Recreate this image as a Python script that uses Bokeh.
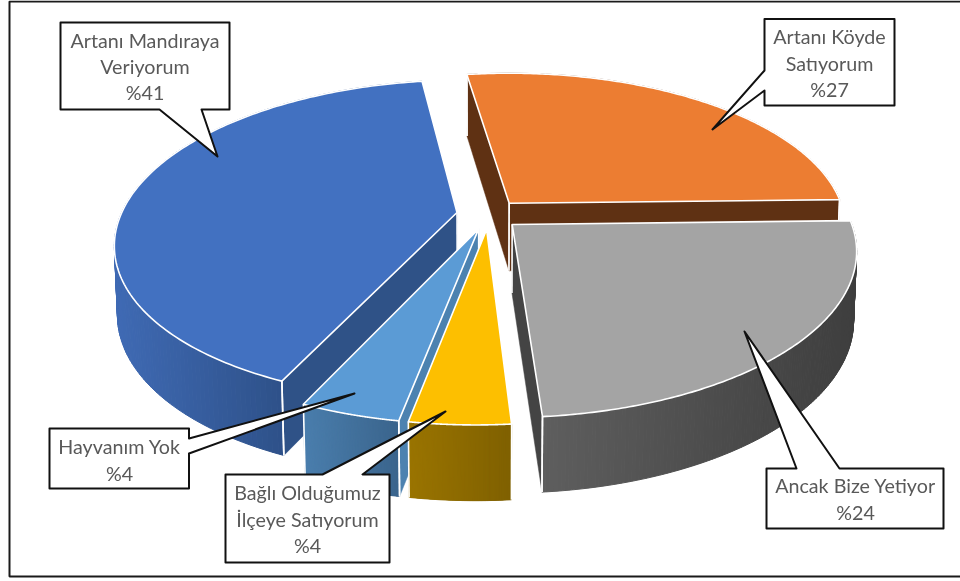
import numpy as np
from bokeh.plotting import figure
from bokeh.models import Range1d
from bokeh.core.properties import value
from bokeh.embed import file_html
from bokeh.resources import INLINE

# data, clockwise from the first slice
categories = ["Artanı Köyde\nSatıyorum", "Ancak Bize Yetiyor", "Bağlı Olduğumuz\nİlçeye Satıyorum", "Hayvanım Yok", "Artanı Mandıraya\nVeriyorum"]
values = [27, 24, 4, 4, 41]
top_colors = ["#EC7D32", "#A4A4A4", "#FDBF00", "#5B9BD5", "#4271C1"]
wall_left = ["#5F3113", "#5E5E5E", "#9A7400", "#4A7EAD", "#3F6AB4"]
wall_right = ["#5F3113", "#3E3E3E", "#7F6000", "#3A648C", "#2E5189"]
radial_colors = ["#5F3113", "#444444", "#7F6000", "#4C82B0", "#2F5287"]
draw_order = [0, 4, 3, 2, 1]

# projection of the 3D pie
CX, CY, RX, RY = 488.0, 214.0, 336.0, 156.0
K, KZ, M, H = 0.172, 0.115, 0.008, 68.0
EXPLODE, START = 0.095, -8.6
SKEW1, SKEW2 = 6.15, -2.15

def project(X, Y, Z):
    den = 1 + K * Y + M * Z
    skew = SKEW1 * Y + SKEW2 * Y * Y
    return CX + (RX * X + skew) / den, CY - RY * Y / den + Z * H / (1 + KZ * Y)

def mix(a, b, t):
    ca = [int(a[i:i + 2], 16) for i in (1, 3, 5)]
    cb = [int(b[i:i + 2], 16) for i in (1, 3, 5)]
    return "#%02x%02x%02x" % tuple(round(u + (v - u) * t) for u, v in zip(ca, cb))

p = figure(width=960, height=581, x_range=Range1d(0, 960), y_range=Range1d(581, 0),
           x_axis_type=None, y_axis_type=None, toolbar_location=None, output_backend="svg",
           min_border=0, outline_line_color=None, background_fill_color="white",
           border_fill_color="white", styles={"position": "fixed", "left": "0px", "top": "0px"})
p.grid.visible = False

# frame
p.line([960, 9, 9, 960], [1, 1, 576, 576], line_color="#1a1a1a", line_width=2)

edges = START + np.concatenate([[0], np.cumsum(values)]) * 3.6
WHITE = dict(line_color="white", line_width=1.6, line_join="round")

for i in draw_order:
    a0, a1 = edges[i], edges[i + 1]
    mid = np.radians((a0 + a1) / 2)
    ox, oy = EXPLODE * np.sin(mid), EXPLODE * np.cos(mid)
    th = np.radians(np.linspace(a0, a1, 160))
    rx, ry = ox + np.sin(th), oy + np.cos(th)
    tx, ty = project(rx, ry, 0 * rx)
    bx, by = project(rx, ry, 0 * rx + 1)
    ax, ay = project(ox, oy, 0)
    ax2, ay2 = project(ox, oy, 1)

    # outer wall, as a strip shaded by screen position over its visible part
    front = np.cos(th) < 0.1
    lo, hi = (tx[front].min(), tx[front].max()) if front.any() else (tx.min(), tx.max())
    sx, sy, sc = [], [], []
    for j in range(len(th) - 1):
        sx.append([tx[j], tx[j + 1], bx[j + 1], bx[j]])
        sy.append([ty[j], ty[j + 1], by[j + 1], by[j]])
        f = float(np.clip(((tx[j] + tx[j + 1]) / 2 - lo) / max(hi - lo, 1), 0, 1))
        sc.append(mix(wall_left[i], wall_right[i], f))
    p.patches(sx, sy, fill_color=sc, line_color=sc, line_width=1)

    # radial walls that face the viewer
    qx, qy = tx[len(th) // 2] - ax, ty[len(th) // 2] - ay
    for k, idx in enumerate((0, -1)):
        ex, ey = tx[idx] - ax, ty[idx] - ay
        inside = ex * qy - ey * qx
        down = ex * 1.0
        if inside * down < 0:
            p.patch([ax, tx[idx], bx[idx], ax2], [ay, ty[idx], by[idx], ay2],
                    fill_color=radial_colors[i], line_color=radial_colors[i], line_width=0.5)
            p.line([tx[idx], bx[idx]], [ty[idx], by[idx]], **WHITE)
            p.line([ax, ax2], [ay, ay2], **WHITE)
    # wall ends next to a neighbour
    p.line([tx[0], bx[0]], [ty[0], by[0]], **WHITE)
    p.line([tx[-1], bx[-1]], [ty[-1], by[-1]], **WHITE)

    # top face
    p.patch([ax] + list(tx), [ay] + list(ty), fill_color=top_colors[i], **WHITE)

# callouts: box (left, right, top, bottom), tail root on one side, tip
callouts = [
    dict(box=(60, 229, 22, 109), side="bottom", root=(159, 201), tip=(217, 156), center=144.5, lines=[40, 66, 92], cat=4),
    dict(box=(764, 894, 18.5, 105), side="left", root=(70, 90), tip=(712, 129), center=829, lines=[36, 63, 89], cat=0),
    dict(box=(766, 943, 468, 528), side="top", root=(796, 839), tip=(744, 331), center=855, lines=[485, 512], cat=1),
    dict(box=(49, 188.5, 428, 488), side="right", root=(438, 453), tip=(354, 393), center=119, lines=[446, 473], cat=3),
    dict(box=(225, 389, 474, 562), side="top", root=(322, 362), tip=(445, 411), center=307, lines=[492, 519, 545], cat=2),
]
for c in callouts:
    l, r, t, b = c["box"]
    r0, r1 = c["root"]
    tipx, tipy = c["tip"]
    if c["side"] == "bottom":
        pts = [(l, t), (r, t), (r, b), (r1, b), (tipx, tipy), (r0, b), (l, b)]
    elif c["side"] == "top":
        pts = [(l, t), (r0, t), (tipx, tipy), (r1, t), (r, t), (r, b), (l, b)]
    elif c["side"] == "left":
        pts = [(l, t), (r, t), (r, b), (l, b), (l, r1), (tipx, tipy), (l, r0)]
    else:
        pts = [(l, t), (r, t), (r, r0), (tipx, tipy), (r, r1), (r, b), (l, b)]
    p.patch([q[0] for q in pts], [q[1] for q in pts], fill_color="white",
            line_color="#111111", line_width=2, line_join="round")
    words = categories[c["cat"]].split("\n") + ["%" + str(values[c["cat"]])]
    p.text([c["center"]] * len(words), c["lines"], text=words, text_align="center",
           text_baseline="middle", text_color="#595959", text_font=value("Lato"),
           text_font_size="19.7px")

open("out.html", "w").write(file_html(p, INLINE))
